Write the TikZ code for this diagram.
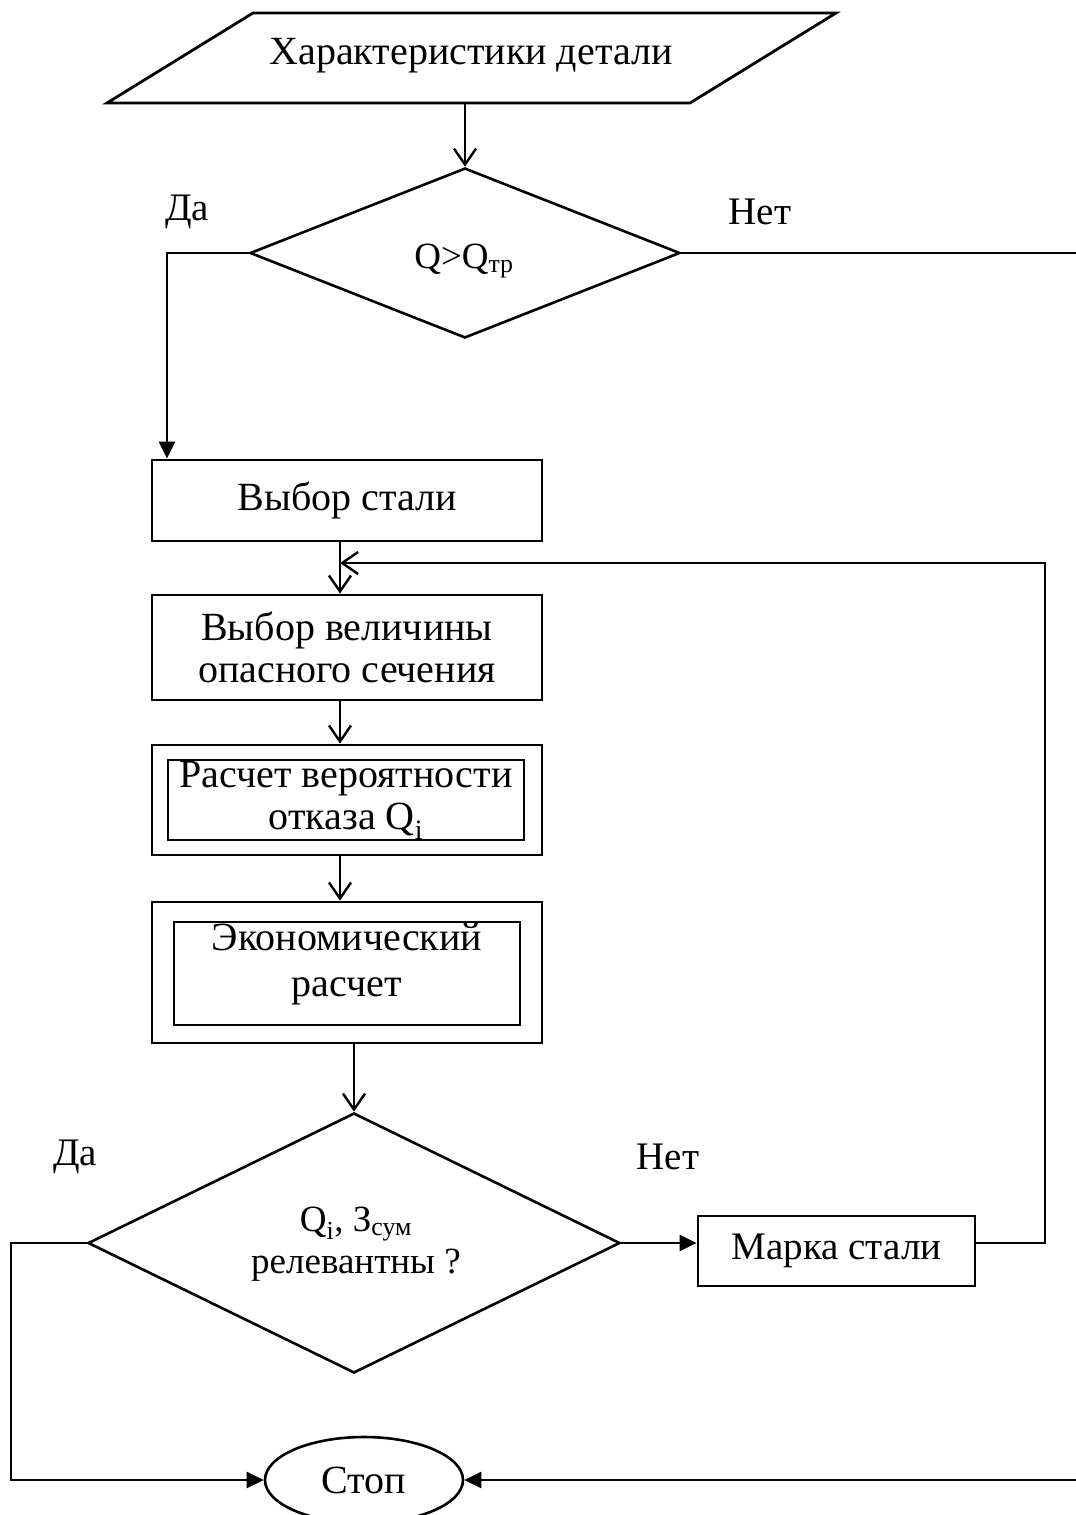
\documentclass[tikz,border=0pt]{standalone}
\usepackage{fontspec}
\setmainfont{Liberation Serif}
\usetikzlibrary{shapes.geometric,arrows.meta}
\begin{document}
\begin{tikzpicture}[x=1pt,y=-1pt,
  every node/.style={font=\fontsize{40}{42}\selectfont},
  box/.style={draw,line width=2.8pt,minimum width=390pt,align=center,inner sep=0pt},
  dia/.style={draw,diamond,line width=2.6pt,inner sep=0pt,align=center},
  ln/.style={line width=2.4pt},
  va/.style={ln,-{Straight Barb[length=16pt,width=22pt,line width=2.4pt]}},
  fa/.style={ln,-{Triangle[length=17pt,width=16pt]}},
  lbl/.style={font=\fontsize{39}{42}\selectfont}
]
\useasboundingbox (0,0) rectangle (1076,1515);
% input parallelogram
\draw[line width=2.8pt] (253,13) -- (836,13) -- (690,103) -- (107,103) -- cycle;
\node (inp) at (471,56) {Характеристики детали};
\coordinate (inpb) at (465,103);
% first decision
\node[dia,minimum width=430pt,minimum height=170pt] (d1) at (465,253) {};
\node[font=\fontsize{37}{40}\selectfont] (d1t) at (464,261) {Q>Q\textsubscript{тр}};
\node[lbl] (da1) at (187,212) {Да};
\node[lbl] (net1) at (760,212) {Нет};
\coordinate (r1) at (1076,253);
% boxes
\node[box,minimum height=81pt] (b1) at (347,500.5) {Выбор стали};
\node[box,minimum height=105pt] (b2) at (347,647.5) {Выбор величины\\опасного сечения};
\node[box,minimum height=110pt] (b3) at (347,800) {};
\node[box,minimum width=356pt,minimum height=80pt] (b3i) at (346,800) {Расчет вероятности\\отказа Q\textsubscript{i}};
\node[box,minimum height=141pt] (b4) at (347,972.5) {};
\node[box,minimum width=346pt,minimum height=103pt] (b4i) at (347,973.5) {};
\node[font=\fontsize{40}{46}\selectfont,align=center] (b4t) at (347,964) {Экономический\\расчет};
% second decision
\node[dia,minimum width=532pt,minimum height=260pt] (d2) at (354,1243) {};
\node[font=\fontsize{37}{42}\selectfont,align=center] (d2t) at (356,1244) {Q\textsubscript{i}, З\textsubscript{сум}\\релевантны ?};
\node[lbl] (da2) at (75,1157) {Да};
\node[lbl] (net2) at (668,1157) {Нет};
\node[box,minimum width=277pt,minimum height=70pt,font=\fontsize{39}{42}\selectfont] (mk) at (836.5,1251) {Марка стали};
\node[draw,ellipse,line width=2.6pt,minimum width=198pt,minimum height=86pt,inner sep=0pt] (stop) at (364,1480) {Стоп};
\coordinate (fb) at (340,563);
\coordinate (fbc) at (1045,563);
\coordinate (r2) at (1076,1480);
% connectors
\draw[va] (inpb) -- (d1.north);
\draw[ln] (d1.east) -- (r1);
\draw[fa] (d1.west) -| ([xshift=-180pt]b1.north);
\draw[va] ([xshift=-7pt]b1.south) -- ([xshift=-7pt]b2.north);
\draw[va] ([xshift=-7pt]b2.south) -- ([xshift=-7pt]b3.north);
\draw[va] ([xshift=-7pt]b3.south) -- ([xshift=-7pt]b4.north);
\draw[va] (d2.north |- b4.south) -- (d2.north);
\draw[fa] (d2.east) -- (d2.east -| mk.west);
\draw[va] (mk.east |- d2.east) -| (fbc) -- (fb);
\draw[fa] (d2.west) -- ++(-76,0) |- (stop.west);
\draw[fa] (r2) -- (stop.east);
\end{tikzpicture}
\end{document}
